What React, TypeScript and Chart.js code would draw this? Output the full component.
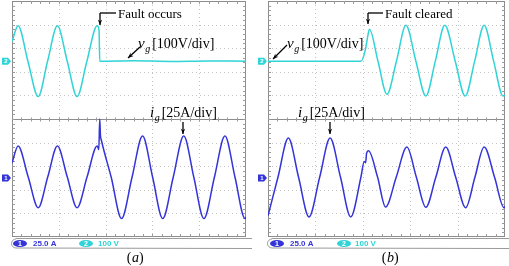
import React, { useEffect, useRef } from "react";
import { Chart, registerables } from "chart.js";
Chart.register(...registerables);

// ---------- data (x in time divisions, y in vertical divisions) ----------
// Panel (a): grid voltage v_g
const vA_t = [0, 0.13, 0.34, 0.56, 0.76, 0.97, 1.18, 1.39, 1.6, 1.82, 1.86, 1.875, 1.89, 2.6, 3.4, 4.2, 5.0];
const vA_v = [3.28, 3.95, 2.45, 0.95, 2.45, 3.95, 2.45, 0.95, 2.45, 3.95, 3.75, 2.45, 2.45, 2.47, 2.44, 2.46, 2.45];
// Panel (a): grid current i_g
const iA_t = [0, 0.13, 0.345, 0.56, 0.765, 0.97, 1.18, 1.39, 1.605, 1.82, 1.855, 1.875, 1.89, 1.91, 2.12, 2.34, 2.565, 2.79, 3.005, 3.22, 3.445, 3.67, 3.885, 4.1, 4.325, 4.55, 4.765, 4.98, 5.0];
const iA_v = [-1.86, -1.14, -2.45, -3.76, -2.45, -1.14, -2.45, -3.76, -2.45, -1.14, -1.3, 0.0, -0.7, -0.9, -2.47, -4.22, -2.47, -0.72, -2.47, -4.22, -2.47, -0.72, -2.47, -4.22, -2.47, -0.72, -2.47, -4.22, -4.15];
// Panel (b): grid voltage v_g
const vB_t = [0, 1.0, 1.96, 2.05, 2.12, 2.14, 2.32, 2.51, 2.71, 2.91, 3.12, 3.33, 3.53, 3.73, 3.95, 4.16, 4.36, 4.56, 4.76, 4.96, 5.0];
const vB_v = [2.45, 2.45, 2.45, 2.9, 3.67, 3.8, 2.45, 1.05, 2.45, 3.97, 2.45, 0.97, 2.45, 3.97, 2.45, 0.97, 2.45, 3.97, 2.45, 0.97, 1.0];
// Panel (b): grid current i_g
const iB_t = [0, 0.21, 0.43, 0.645, 0.865, 1.09, 1.31, 1.53, 1.745, 1.96, 2.03, 2.06, 2.08, 2.12, 2.31, 2.48, 2.705, 2.93, 3.13, 3.33, 3.54, 3.75, 3.96, 4.17, 4.365, 4.56, 4.78, 4.98, 5.0];
const iB_v = [-4.1, -2.47, -0.81, -2.47, -4.15, -2.47, -0.81, -2.47, -4.15, -2.47, -1.8, -1.85, -1.45, -1.35, -2.45, -3.73, -2.47, -1.19, -2.47, -3.74, -2.47, -1.19, -2.47, -3.76, -2.47, -1.19, -2.47, -3.76, -3.7];

// channel reference levels (divisions) and labels
const chLevels = [-2.5, 2.45]; // ch1 (current), ch2 (voltage)
const chScales = ["25.0 A", "100 V"];
const faultTexts = ["Fault occurs", "Fault cleared"];
const panelLabels = ["a", "b"];
const vgUnit = "[100V/div]";
const igUnit = "[25A/div]";

const W = 509;
const H = 266;
const CYAN = "#31d4d6";
const BLUE = "#3434d8";
const SERIF = "'Liberation Serif', 'DejaVu Serif', serif";
const SANS = "'Liberation Sans', Arial, sans-serif";

type PanelCfg = {
  id: string;
  left: number;
  right: number;
  top: number;
  bottom: number;
  vt: number[];
  vv: number[];
  it: number[];
  iv: number[];
  label: string;
  fault: string;
  faultX: number;
  faultArrowX: number;
  faultTipY: number;
  vgX: number;
  vgArrow: [number, number, number, number];
  igX: number;
  igArrowX: number;
  markerX: number;
  labelX: number;
  status: { b1: number; t1: number; b2: number; t2: number; end: number };
};

const panels: PanelCfg[] = [
  {
    id: "a", left: 12, right: 246, top: 1, bottom: 237,
    vt: vA_t, vv: vA_v, it: iA_t, iv: iA_v,
    label: panelLabels[0], fault: faultTexts[0], faultX: 118, faultArrowX: 100, faultTipY: 25,
    vgX: 138, vgArrow: [140, 47, 128, 58],
    igX: 150, igArrowX: 183,
    markerX: 2, labelX: 135,
    status: { b1: 13, t1: 33, b2: 79, t2: 98, end: 252 },
  },
  {
    id: "b", left: 268, right: 505, top: 1, bottom: 237,
    vt: vB_t, vv: vB_v, it: iB_t, iv: iB_v,
    label: panelLabels[1], fault: faultTexts[1], faultX: 385, faultArrowX: 368, faultTipY: 24,
    vgX: 287, vgArrow: [287, 45, 273, 59],
    igX: 298, igArrowX: 330,
    markerX: 258, labelX: 390,
    status: { b1: 270, t1: 290, b2: 337, t2: 355, end: 509 },
  },
];

function line(ctx: CanvasRenderingContext2D, x1: number, y1: number, x2: number, y2: number) {
  ctx.beginPath();
  ctx.moveTo(x1, y1);
  ctx.lineTo(x2, y2);
  ctx.stroke();
}

function arrowHead(ctx: CanvasRenderingContext2D, x: number, y: number, ang: number) {
  const L = 6, a = 0.38;
  ctx.beginPath();
  ctx.moveTo(x, y);
  ctx.lineTo(x - L * Math.cos(ang - a), y - L * Math.sin(ang - a));
  ctx.lineTo(x - L * 0.6 * Math.cos(ang), y - L * 0.6 * Math.sin(ang));
  ctx.lineTo(x - L * Math.cos(ang + a), y - L * Math.sin(ang + a));
  ctx.closePath();
  ctx.fill();
}

function arrow(ctx: CanvasRenderingContext2D, x1: number, y1: number, x2: number, y2: number) {
  line(ctx, x1, y1, x2, y2);
  arrowHead(ctx, x2, y2, Math.atan2(y2 - y1, x2 - x1));
}

function subLabel(ctx: CanvasRenderingContext2D, x: number, y: number, sym: string, unit: string) {
  ctx.fillStyle = "#000";
  ctx.textBaseline = "alphabetic";
  ctx.textAlign = "left";
  ctx.font = `italic 15px ${SERIF}`;
  ctx.fillText(sym, x, y);
  const w1 = ctx.measureText(sym).width;
  ctx.font = `italic 10px ${SERIF}`;
  ctx.fillText("g", x + w1 + 0.5, y + 4);
  const w2 = ctx.measureText("g").width;
  ctx.font = `14px ${SERIF}`;
  ctx.fillText(unit, x + w1 + w2 + 2.5, y);
}

function marker(ctx: CanvasRenderingContext2D, x: number, y: number, color: string, txt: string) {
  ctx.fillStyle = color;
  ctx.beginPath();
  ctx.moveTo(x, y - 3.5);
  ctx.lineTo(x + 6, y - 3.5);
  ctx.lineTo(x + 9, y);
  ctx.lineTo(x + 6, y + 3.5);
  ctx.lineTo(x, y + 3.5);
  ctx.closePath();
  ctx.fill();
  ctx.fillStyle = "#fff";
  ctx.font = `bold 6px ${SANS}`;
  ctx.textAlign = "center";
  ctx.textBaseline = "middle";
  ctx.fillText(txt, x + 4, y + 0.5);
}

function makePlugin(p: PanelCfg) {
  return {
    id: "scope_" + p.id,
    beforeDatasetsDraw(chart: any) {
      const ctx: CanvasRenderingContext2D = chart.ctx;
      const { left, right, top, bottom } = chart.chartArea;
      const xs = chart.scales.x;
      const ys = chart.scales.y;
      ctx.save();
      ctx.lineWidth = 1;
      // dotted grid
      ctx.strokeStyle = "#c4c4c4";
      ctx.setLineDash([1, 3]);
      for (let i = 1; i < 5; i++) {
        const x = Math.round(xs.getPixelForValue(i)) + 0.5;
        line(ctx, x, top, x, bottom);
      }
      for (let j = -4; j <= 4; j++) {
        if (j === 0) continue;
        const y = Math.round(ys.getPixelForValue(j)) + 0.5;
        line(ctx, left, y, right, y);
      }
      ctx.setLineDash([]);
      // centre line + frame
      ctx.strokeStyle = "#8c8c8c";
      const y0 = Math.round(ys.getPixelForValue(0)) + 0.5;
      line(ctx, left, y0, right, y0);
      ctx.strokeRect(Math.round(left) + 0.5, Math.round(top) + 0.5, Math.round(right - left) - 1, Math.round(bottom - top) - 1);
      // minor ticks
      ctx.strokeStyle = "#9a9a9a";
      for (let k = 1; k < 25; k++) {
        const x = Math.round(xs.getPixelForValue(k * 0.2)) + 0.5;
        line(ctx, x, top, x, top + 3);
        line(ctx, x, bottom - 3, x, bottom);
        line(ctx, x, y0 - 2, x, y0 + 2);
      }
      for (let k = 1; k < 50; k++) {
        const y = Math.round(ys.getPixelForValue(-5 + k * 0.2)) + 0.5;
        line(ctx, left, y, left + 3, y);
        line(ctx, right - 3, y, right, y);
      }
      ctx.restore();
    },
    afterDraw(chart: any) {
      const ctx: CanvasRenderingContext2D = chart.ctx;
      const ys = chart.scales.y;
      ctx.save();
      // channel markers
      marker(ctx, p.markerX, ys.getPixelForValue(chLevels[1]), CYAN, "2");
      marker(ctx, p.markerX, ys.getPixelForValue(chLevels[0]), BLUE, "1");

      // annotations
      ctx.fillStyle = "#000";
      ctx.strokeStyle = "#000";
      ctx.lineWidth = 1.3;
      ctx.font = `13px ${SERIF}`;
      ctx.textAlign = "left";
      ctx.textBaseline = "alphabetic";
      ctx.fillText(p.fault, p.faultX, 18);
      line(ctx, p.faultX - 2, 13, p.faultArrowX, 13);
      arrow(ctx, p.faultArrowX, 13, p.faultArrowX, p.faultTipY);

      subLabel(ctx, p.vgX, 48, "v", vgUnit);
      const [ax1, ay1, ax2, ay2] = p.vgArrow;
      arrow(ctx, ax1, ay1, ax2, ay2);

      subLabel(ctx, p.igX, 117, "i", igUnit);
      arrow(ctx, p.igArrowX, 122, p.igArrowX, 134);

      // status bar
      const s = p.status;
      const by0 = 238, by1 = 248;
      ctx.fillStyle = "#fff";
      ctx.fillRect(p.left, by0, s.end - p.left, by1 - by0);
      ctx.strokeStyle = "#9a9a9a";
      ctx.lineWidth = 1;
      ctx.beginPath();
      ctx.moveTo(s.end, by0 + 0.5);
      ctx.lineTo(p.left + 4, by0 + 0.5);
      ctx.arc(p.left + 4, (by0 + by1) / 2 + 0.5, 4.5, -Math.PI / 2, Math.PI / 2, true);
      ctx.lineTo(s.end, by1 + 0.5);
      ctx.stroke();
      const cy = (by0 + by1) / 2 + 0.5;
      ctx.fillStyle = BLUE;
      ctx.beginPath();
      ctx.ellipse(s.b1 + 7, cy, 7, 3.6, 0, 0, Math.PI * 2);
      ctx.fill();
      ctx.fillStyle = CYAN;
      ctx.beginPath();
      ctx.ellipse(s.b2 + 7, cy, 7, 3.6, 0, 0, Math.PI * 2);
      ctx.fill();
      ctx.fillStyle = "#fff";
      ctx.font = `bold 7px ${SANS}`;
      ctx.textAlign = "center";
      ctx.textBaseline = "middle";
      ctx.fillText("1", s.b1 + 7, cy + 0.5);
      ctx.fillText("2", s.b2 + 7, cy + 0.5);
      ctx.textAlign = "left";
      ctx.font = `bold 8px ${SANS}`;
      ctx.fillStyle = BLUE;
      ctx.fillText(chScales[0], s.t1, cy + 0.5);
      ctx.fillStyle = CYAN;
      ctx.fillText(chScales[1], s.t2, cy + 0.5);

      // panel label
      ctx.fillStyle = "#000";
      ctx.textBaseline = "alphabetic";
      ctx.font = `14px ${SERIF}`;
      const wP = ctx.measureText("(").width;
      ctx.font = `italic 14px ${SERIF}`;
      const wL = ctx.measureText(p.label).width;
      const x0 = p.labelX - (2 * wP + wL) / 2;
      ctx.font = `14px ${SERIF}`;
      ctx.fillText("(", x0, 262);
      ctx.fillText(")", x0 + wP + wL + 0.5, 262);
      ctx.font = `italic 14px ${SERIF}`;
      ctx.fillText(p.label, x0 + wP + 0.5, 262);
      ctx.restore();
    },
  };
}

function toXY(t: number[], v: number[]) {
  return t.map((x, i) => ({ x, y: v[i] }));
}

function ScopePanel({ p }: { p: PanelCfg }) {
  const ref = useRef<HTMLCanvasElement | null>(null);
  useEffect(() => {
    if (!ref.current) return;
    const chart = new Chart(ref.current, {
      type: "line",
      data: {
        datasets: [
          {
            label: "v_g",
            data: toXY(p.vt, p.vv),
            borderColor: CYAN,
            borderWidth: 1.5,
            pointRadius: 0,
            cubicInterpolationMode: "monotone",
            fill: false,
          },
          {
            label: "i_g",
            data: toXY(p.it, p.iv),
            borderColor: BLUE,
            borderWidth: 1.5,
            pointRadius: 0,
            cubicInterpolationMode: "monotone",
            fill: false,
          },
        ],
      },
      options: {
        responsive: false,
        maintainAspectRatio: false,
        animation: false,
        events: [],
        layout: { padding: { left: p.left, right: W - p.right, top: p.top, bottom: H - p.bottom } },
        scales: {
          x: { type: "linear", min: 0, max: 5, display: false },
          y: { type: "linear", min: -5, max: 5, display: false },
        },
        plugins: { legend: { display: false }, tooltip: { enabled: false } },
      },
      plugins: [makePlugin(p)],
    } as any);
    return () => chart.destroy();
  }, [p]);
  return (
    <canvas
      ref={ref}
      width={W}
      height={H}
      style={{ position: "absolute", left: 0, top: 0, width: W, height: H }}
    />
  );
}

export default function App() {
  useEffect(() => {
    document.body.style.margin = "0";
    document.body.style.background = "#fff";
  }, []);
  return (
    <div style={{ position: "relative", width: W, height: H, background: "#fff" }}>
      {panels.map((p) => (
        <ScopePanel key={p.id} p={p} />
      ))}
    </div>
  );
}
